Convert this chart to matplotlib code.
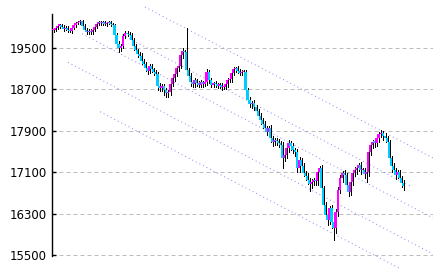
import matplotlib
matplotlib.use("Agg")
import matplotlib.pyplot as plt
import numpy as np

# Closing prices (one per session)
closes = [19850, 19890, 19930, 19940, 19910, 19870, 19890, 19850, 19830, 19890,
          19940, 19980, 20000, 20020, 19930, 19850, 19810, 19830, 19810, 19850,
          19910, 19960, 20000, 19980, 20000, 19960, 19980, 20000, 19960, 19940,
          19750, 19580, 19500, 19540, 19730, 19790, 19770, 19750, 19650, 19540,
          19460, 19380, 19350, 19250, 19190, 19110, 19060, 19150, 19090, 19040,
          19000, 18770, 18730, 18770, 18690, 18630, 18650, 18800, 18920, 19000,
          19110, 19150, 19360, 19440, 19420, 19080, 18960, 18840, 18800, 18880,
          18820, 18790, 18840, 18800, 18840, 19040, 18880, 18790, 18820, 18800,
          18770, 18790, 18750, 18750, 18800, 18880, 18900, 19020, 19090, 19110,
          19060, 19020, 19040, 19040, 18690, 18500, 18420, 18440, 18360, 18280,
          18190, 18110, 18030, 17950, 17880, 17950, 17760, 17680, 17720, 17700,
          17670, 17630, 17380, 17430, 17570, 17670, 17610, 17530, 17490, 17180,
          17340, 17220, 17090, 17030, 16950, 16870, 16910, 16950, 16930, 17100,
          17180, 16800, 16470, 16270, 16180, 16410, 16140, 16020, 16330, 16760,
          16990, 17090, 17050, 16850, 16720, 16910, 17090, 17140, 17180, 17240,
          17140, 17140, 17070, 17100, 17490, 17630, 17680, 17670, 17760, 17840,
          17860, 17800, 17760, 17680, 17380, 17220, 17140, 17050, 17100, 16990,
          16890, 16830]

# How far the high / low sticks out beyond the body
up_wick = [40, 30, 40, 30, 20, 40, 30, 30, 40, 30,
           30, 20, 30, 20, 30, 40, 30, 40, 30, 30,
           30, 20, 20, 30, 20, 30, 20, 30, 20, 30,
           30, 40, 50, 30, 40, 30, 30, 40, 40, 50,
           40, 30, 40, 50, 40, 30, 40, 50, 40, 30,
           40, 30, 50, 40, 40, 30, 40, 40, 30, 40,
           40, 50, 40, 60, 30, 470, 40, 50, 30, 40,
           30, 40, 50, 30, 40, 60, 30, 40, 30, 40,
           30, 40, 30, 30, 40, 40, 30, 40, 40, 30,
           40, 30, 40, 30, 30, 40, 60, 40, 50, 40,
           40, 50, 40, 60, 40, 50, 60, 40, 50, 40,
           50, 40, 60, 50, 40, 60, 40, 50, 40, 60,
           50, 40, 60, 40, 50, 40, 60, 40, 50, 60,
           40, 50, 40, 60, 50, 40, 50, 40, 60, 50,
           60, 40, 50, 40, 60, 50, 40, 60, 50, 40,
           60, 40, 50, 40, 60, 50, 40, 50, 60, 40,
           50, 40, 60, 40, 50, 40, 60, 50, 40, 50,
           40, 50]
low_wick = [40, 30, 30, 40, 30, 40, 30, 40, 30, 40,
            30, 30, 20, 30, 40, 30, 40, 30, 40, 30,
            30, 30, 20, 30, 30, 20, 30, 20, 30, 40,
            50, 60, 80, 50, 40, 30, 40, 30, 60, 70,
            60, 50, 60, 50, 60, 50, 60, 40, 50, 60,
            50, 80, 60, 70, 90, 80, 70, 50, 40, 50,
            40, 50, 40, 50, 60, 60, 80, 70, 60, 50,
            60, 50, 40, 50, 40, 50, 60, 50, 40, 60,
            50, 40, 60, 50, 40, 50, 40, 50, 40, 50,
            40, 50, 40, 50, 60, 70, 60, 80, 60, 70,
            60, 70, 80, 60, 70, 60, 80, 70, 60, 70,
            80, 60, 200, 70, 60, 70, 80, 60, 70, 80,
            70, 80, 60, 90, 80, 140, 70, 60, 80, 70,
            80, 70, 90, 80, 100, 80, 120, 230, 90, 70,
            60, 80, 70, 90, 80, 70, 60, 70, 80, 60,
            70, 60, 80, 150, 70, 60, 70, 80, 60, 70,
            60, 70, 80, 90, 70, 110, 80, 90, 70, 80,
            70, 80]

yticks = [15500, 16300, 17100, 17900, 18700, 19500]

# Trend channel lines: [start, end] in (session index, price)
chan_x = [[44.9, 185.6], [33.7, 174.4], [14.2, 185.6], [7.3, 185.6], [23.0, 172.0]]
chan_y = [[20292, 17375], [19756, 16834], [19775, 16216], [19222, 15520], [18268, 15186]]

closes = np.array(closes)
opens = np.concatenate([[closes[0]], closes[:-1]])
top = np.maximum(opens, closes)
bot = np.minimum(opens, closes)
highs = top + np.array(up_wick)
lows = bot - np.array(low_wick)
x = np.arange(len(closes))

fig = plt.figure(figsize=(4.33, 2.69), dpi=100)
ax = fig.add_axes([52 / 433, 0, 381 / 433, 1])
ax.set_xlim(-0.5, 185.6)
ax.set_ylim(15229.5, 20427.5)

px = 0.72  # one pixel in points
for t in yticks:
    ax.axhline(t, color="#bdbdbd", linewidth=px, linestyle=(0, (4, 3)), zorder=1)

for cx, cy in zip(chan_x, chan_y):
    ax.plot(cx, cy, color="#8c8cf0", linewidth=px, linestyle=(0, (1, 3)), zorder=2)

# wick drawn one pixel right of the body centre so it peeks out like the original
ax.vlines(x + 0.4, lows, highs, colors="black", linewidth=px, antialiased=False, zorder=3)
colors = np.where(closes >= opens, "#ff00ff", "#00ccff")
ax.bar(x, np.maximum(top - bot, 25), bottom=bot, width=1.05, color=colors,
       linewidth=0, antialiased=False, zorder=4)

for s in ["top", "right", "bottom"]:
    ax.spines[s].set_visible(False)
ax.spines["left"].set_bounds(15481, 20157)
ax.spines["left"].set_linewidth(1.0)
ax.set_xticks([])
ax.set_yticks(yticks)
ax.set_yticklabels([str(t) for t in yticks])
ax.tick_params(axis="y", direction="in", length=3, width=1, pad=4, labelsize=8.5)

fig.savefig("out.png", dpi=100)
